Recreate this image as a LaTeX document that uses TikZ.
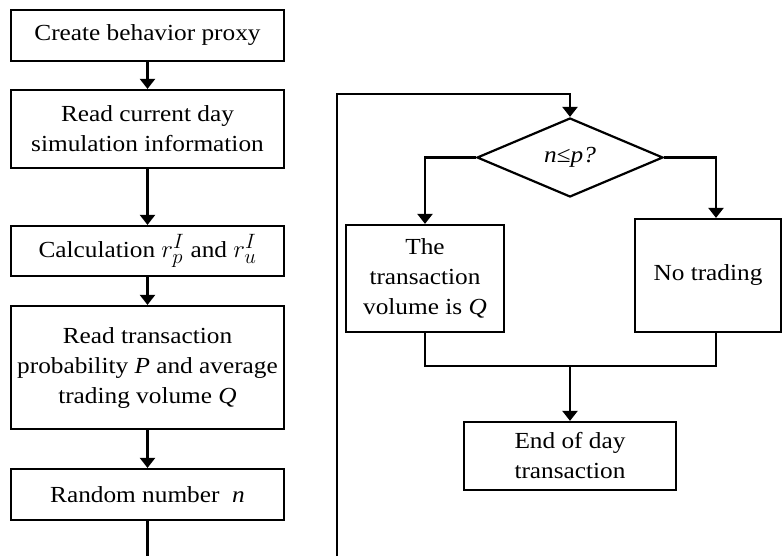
\documentclass[tikz,border=0pt]{standalone}
\usepackage{fontspec}
\setmainfont{Liberation Serif}[FakeStretch=1.1]
\usetikzlibrary{arrows.meta,shapes.geometric}
\begin{document}
\begin{tikzpicture}[x=1pt,y=-1pt,
  line width=2.2pt,
  font=\fontsize{23}{30}\selectfont,
  box/.style={draw,rectangle,inner sep=0pt,align=center},
  decision/.style={draw,diamond,inner sep=0pt,minimum width=186pt,minimum height=79pt,aspect=2.35},
  flow/.style={-{Triangle[width=15pt,length=10pt]}},
  plain/.style={-}]
\useasboundingbox (0,0) rectangle (783,556);
% left column
\node[box,minimum width=273pt,minimum height=51pt] (b1) at (147.5,35.5) {Create behavior proxy};
\node[box,minimum width=273pt,minimum height=78pt] (b2) at (147.5,129) {Read current day\\simulation information};
\node[box,minimum width=273pt,minimum height=50pt] (b3) at (147.5,251) {Calculation {\fontsize{30}{30}\selectfont$r_p^I$} and {\fontsize{30}{30}\selectfont$r_u^I$}};
\node[box,minimum width=273pt,minimum height=123pt] (b4) at (147.5,367.5) {Read transaction\\probability \textit{P} and average\\trading volume \textit{Q}};
\node[box,minimum width=273pt,minimum height=51pt] (b5) at (147.5,494.5) {Random number \ \textit{n}};
\coordinate (lend) at (147.5,556);
\draw[flow] (b1) -- (b2);
\draw[flow] (b2) -- (b3);
\draw[flow] (b3) -- (b4);
\draw[flow] (b4) -- (b5);
\draw[plain] (b5) -- (lend);
% right part
\coordinate (loopstart) at (337,556);
\coordinate (looptop) at (570,94);
\node[decision] (d) at (570,157.5) {\itshape n≤p?};
\node[box,minimum width=158pt,minimum height=107pt] (bq) at (425,278.5) {The\\transaction\\volume is \textit{Q}};
\node[box,minimum width=146pt,minimum height=113pt] (bn) at (708,275.5) {No trading};
\node[box,minimum width=212pt,minimum height=68pt] (be) at (570,456) {End of day\\transaction};
\coordinate (join) at (570,366);
\draw[flow] (loopstart) |- (looptop) -- (d.north);
\draw[flow] (d.west) -| (bq.north);
\draw[flow] (d.east) -| (bn.north -| 716,0);
\draw[plain] (bq.south) |- (join);
\draw[plain] (bn.south -| 716,0) |- (join);
\draw[flow] (join) -- (be.north);
\end{tikzpicture}
\end{document}
